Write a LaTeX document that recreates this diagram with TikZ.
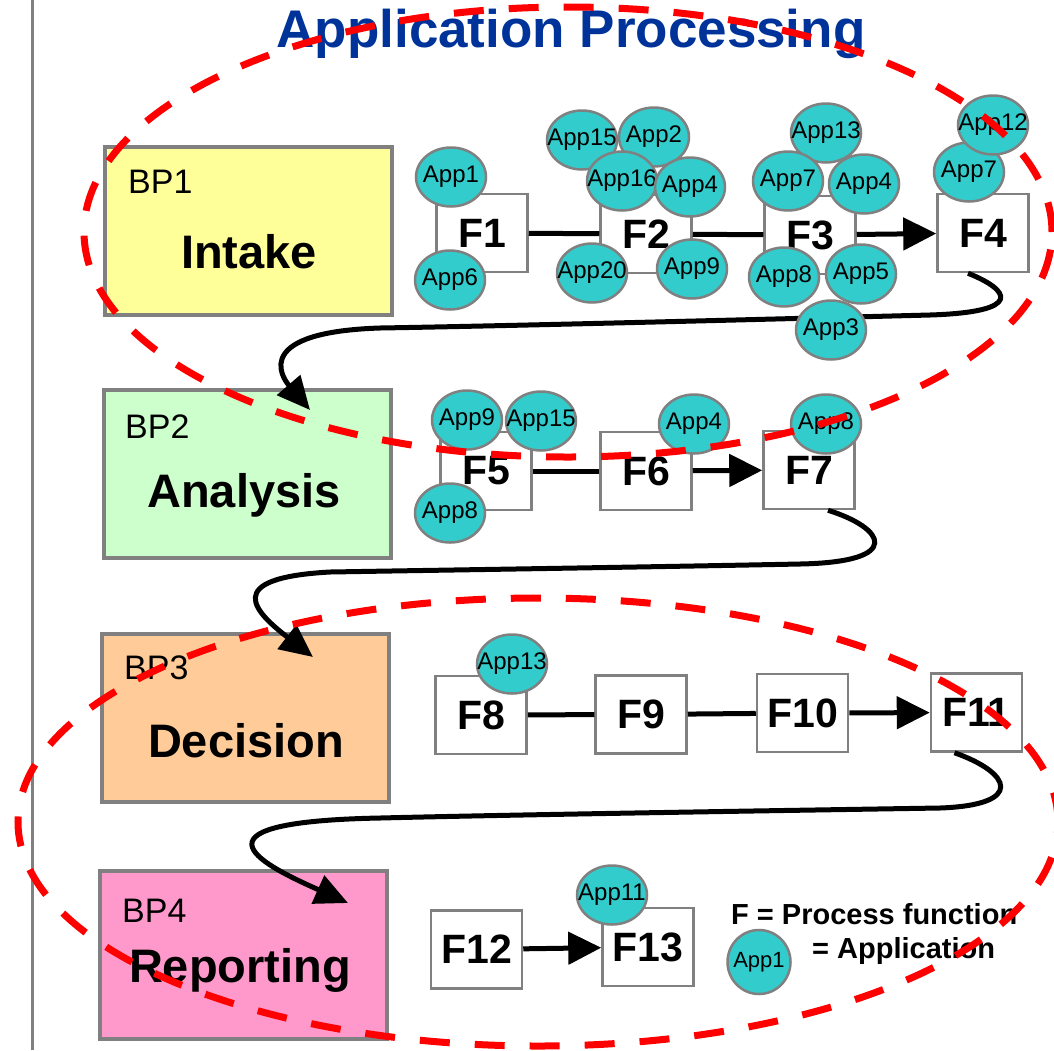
\documentclass[tikz,border=0pt]{standalone}
\usepackage{fontspec}
\setmainfont{Liberation Sans}
\usetikzlibrary{shapes.geometric,arrows.meta,calc}

\definecolor{titleblue}{RGB}{0,51,153}
\definecolor{appteal}{RGB}{51,204,204}
\definecolor{edgegray}{RGB}{128,128,128}
\definecolor{bpyellow}{RGB}{255,255,153}
\definecolor{bpgreen}{RGB}{204,255,204}
\definecolor{bporange}{RGB}{255,204,153}
\definecolor{bppink}{RGB}{255,153,204}
\definecolor{boundred}{RGB}{255,0,0}

\newcommand{\fsz}[1]{\fontsize{#1pt}{#1pt}\selectfont}
% zero-width label so the ellipse keeps its fixed size
\newcommand{\apptag}[1]{\makebox[0pt]{#1}}

\begin{document}
\begin{tikzpicture}[x=1pt,y=-1pt,
  bpbox/.style={draw=edgegray,line width=4pt,minimum width=287pt,minimum height=168pt,inner sep=0pt},
  fbox/.style={draw=edgegray,line width=2.5pt,fill=white,minimum width=91pt,minimum height=78pt,inner sep=0pt,font=\fsz{41}\bfseries},
  app/.style={ellipse,draw=edgegray,line width=2.5pt,fill=appteal,minimum width=70pt,minimum height=59pt,inner sep=0pt,font=\fsz{24}},
  bpnum/.style={anchor=base west,inner sep=0pt,font=\fsz{34}},
  bpname/.style={anchor=base,inner sep=0pt,font=\fsz{47}\bfseries},
  flow/.style={line width=5pt},
  flowarrow/.style={line width=5pt,-{Triangle[length=33pt,width=32pt]}},
  hook/.style={line width=5pt,-{Triangle[length=33pt,width=30pt]}},
  boundary/.style={draw=boundred,line width=7pt,dash pattern=on 30pt off 25pt},
  legendtext/.style={anchor=base west,inner sep=0pt,font=\fsz{29}\bfseries}
]
\useasboundingbox (0,0) rectangle (1054,1050);

% left margin rule
\draw[edgegray,line width=3pt] (32,0) -- (32,1050);

% title
\node[anchor=base,inner sep=0pt,font=\fsz{53}\bfseries,text=titleblue] (title) at (571,47) {Application Processing};

% business process boxes
\node[bpbox,fill=bpyellow] (bp1) at (248,230.5) {};
\node[bpbox,fill=bpgreen]  (bp2) at (247.5,473.5) {};
\node[bpbox,fill=bporange] (bp3) at (245.5,717.5) {};
\node[bpbox,fill=bppink]   (bp4) at (243,954.5) {};

\node[bpnum] (bp1n) at (128,193) {BP1};
\node[bpname] (bp1t) at (249,268) {Intake};
\node[bpnum] (bp2n) at (125,438) {BP2};
\node[bpname] (bp2t) at (244,507) {Analysis};
\node[bpnum] (bp3n) at (124,679) {BP3};
\node[bpname] (bp3t) at (246,757) {Decision};
\node[bpnum] (bp4n) at (122,922) {BP4};
\node[bpname] (bp4t) at (240,982) {Reporting};

% process functions
\node[fbox] (F1)  at (482,233)   {F1};
\node[fbox] (F2)  at (646,234)   {F2};
\node[fbox] (F3)  at (810,235)   {F3};
\node[fbox] (F4)  at (983,233)   {F4};
\node[fbox] (F5)  at (486,471)   {F5};
\node[fbox] (F6)  at (646,471)   {F6};
\node[fbox] (F7)  at (809,470)   {F7};
\node[fbox] (F8)  at (481,715)   {F8};
\node[fbox] (F9)  at (641,714.5) {F9};
\node[fbox] (F10) at (802.5,713) {F10};
\node[fbox] (F11) at (976.5,712.5) {F11};
\node[fbox] (F12) at (476.5,949.5) {F12};
\node[fbox] (F13) at (648,947)   {F13};

% flow between functions
\draw[flow] (F1) -- (F2);
\draw[flow] (F2) -- (F3);
\draw[flowarrow] (F3) -- (F4);
\draw[flow] (F5) -- (F6);
\draw[flowarrow] (F6) -- (F7);
\draw[flow] (F8) -- (F9);
\draw[flow] (F9) -- (F10);
\draw[flowarrow] (F10) -- (F11);
\draw[flowarrow] (F12) -- (F13);

% hand-offs between business processes
\coordinate (in2) at (310,410);
\coordinate (in3) at (313,657);
\coordinate (in4) at (348,903);
\draw[hook] ($(F4.south)+(-15,0)$) .. controls (1010,290) and (1025,312) .. (930,315)
  .. controls (700,321) and (500,326) .. (380,328)
  .. controls (255,332) and (280,375) .. (in2);
\draw[hook] ($(F7.south)+(19,0)$) .. controls (885,528) and (905,562) .. (800,564)
  .. controls (650,567) and (450,570) .. (330,572)
  .. controls (220,578) and (255,612) .. (in3);
\draw[hook] ($(F11.south)+(-22,0)$) .. controls (1012,773) and (1025,805) .. (940,808)
  .. controls (750,811) and (500,815) .. (380,818)
  .. controls (170,822) and (270,868) .. (in4);

% applications attached to functions
\node[app] (a1)  at (451,177) {\apptag{App1}};
\node[app] (a6)  at (450,280) {\apptag{App6}};
\node[app] (a15) at (582,140) {\apptag{App15}};
\node[app] (a2)  at (654,137) {\apptag{App2}};
\node[app] (a16) at (622,181) {\apptag{App16}};
\node[app] (a4b) at (690,187) {\apptag{App4}};
\node[app] (a20) at (592,273) {\apptag{App20}};
\node[app] (a9b) at (692,269) {\apptag{App9}};
\node[app] (a13c) at (826,133) {\apptag{App13}};
\node[app] (a7c) at (788,181) {\apptag{App7}};
\node[app] (a4c) at (864,184) {\apptag{App4}};
\node[app] (a8c) at (784,277) {\apptag{App8}};
\node[app] (a5c) at (861,274) {\apptag{App5}};
\node[app] (a3c) at (831,330) {\apptag{App3}};
\node[app] (a7d) at (969,172) {\apptag{App7}};
\node[app] (a12d) at (993,125) {\apptag{App12}};
\node[app] (a9e) at (467,420) {\apptag{App9}};
\node[app] (a15e) at (541,421) {\apptag{App15}};
\node[app] (a8e) at (450,513) {\apptag{App8}};
\node[app] (a4f) at (694,424) {\apptag{App4}};
\node[app] (a8g) at (826,424) {\apptag{App8}};
\node[app] (a13h) at (512,664) {\apptag{App13}};
\node[app] (a11m) at (612,895) {\apptag{App11}};

% legend
\node[legendtext] (legf) at (731,924) {F = Process function};
\node[app,minimum width=63pt,minimum height=64pt,font=\fsz{22}] (legapp) at (759,962) {\apptag{App1}};
\node[legendtext] (lega) at (812,958) {= Application};

% dashed boundaries
\draw[boundary] (568,232) ellipse [x radius=484pt, y radius=225pt];
\draw[boundary] (538,822) ellipse [x radius=520pt, y radius=224pt];
\end{tikzpicture}
\end{document}
